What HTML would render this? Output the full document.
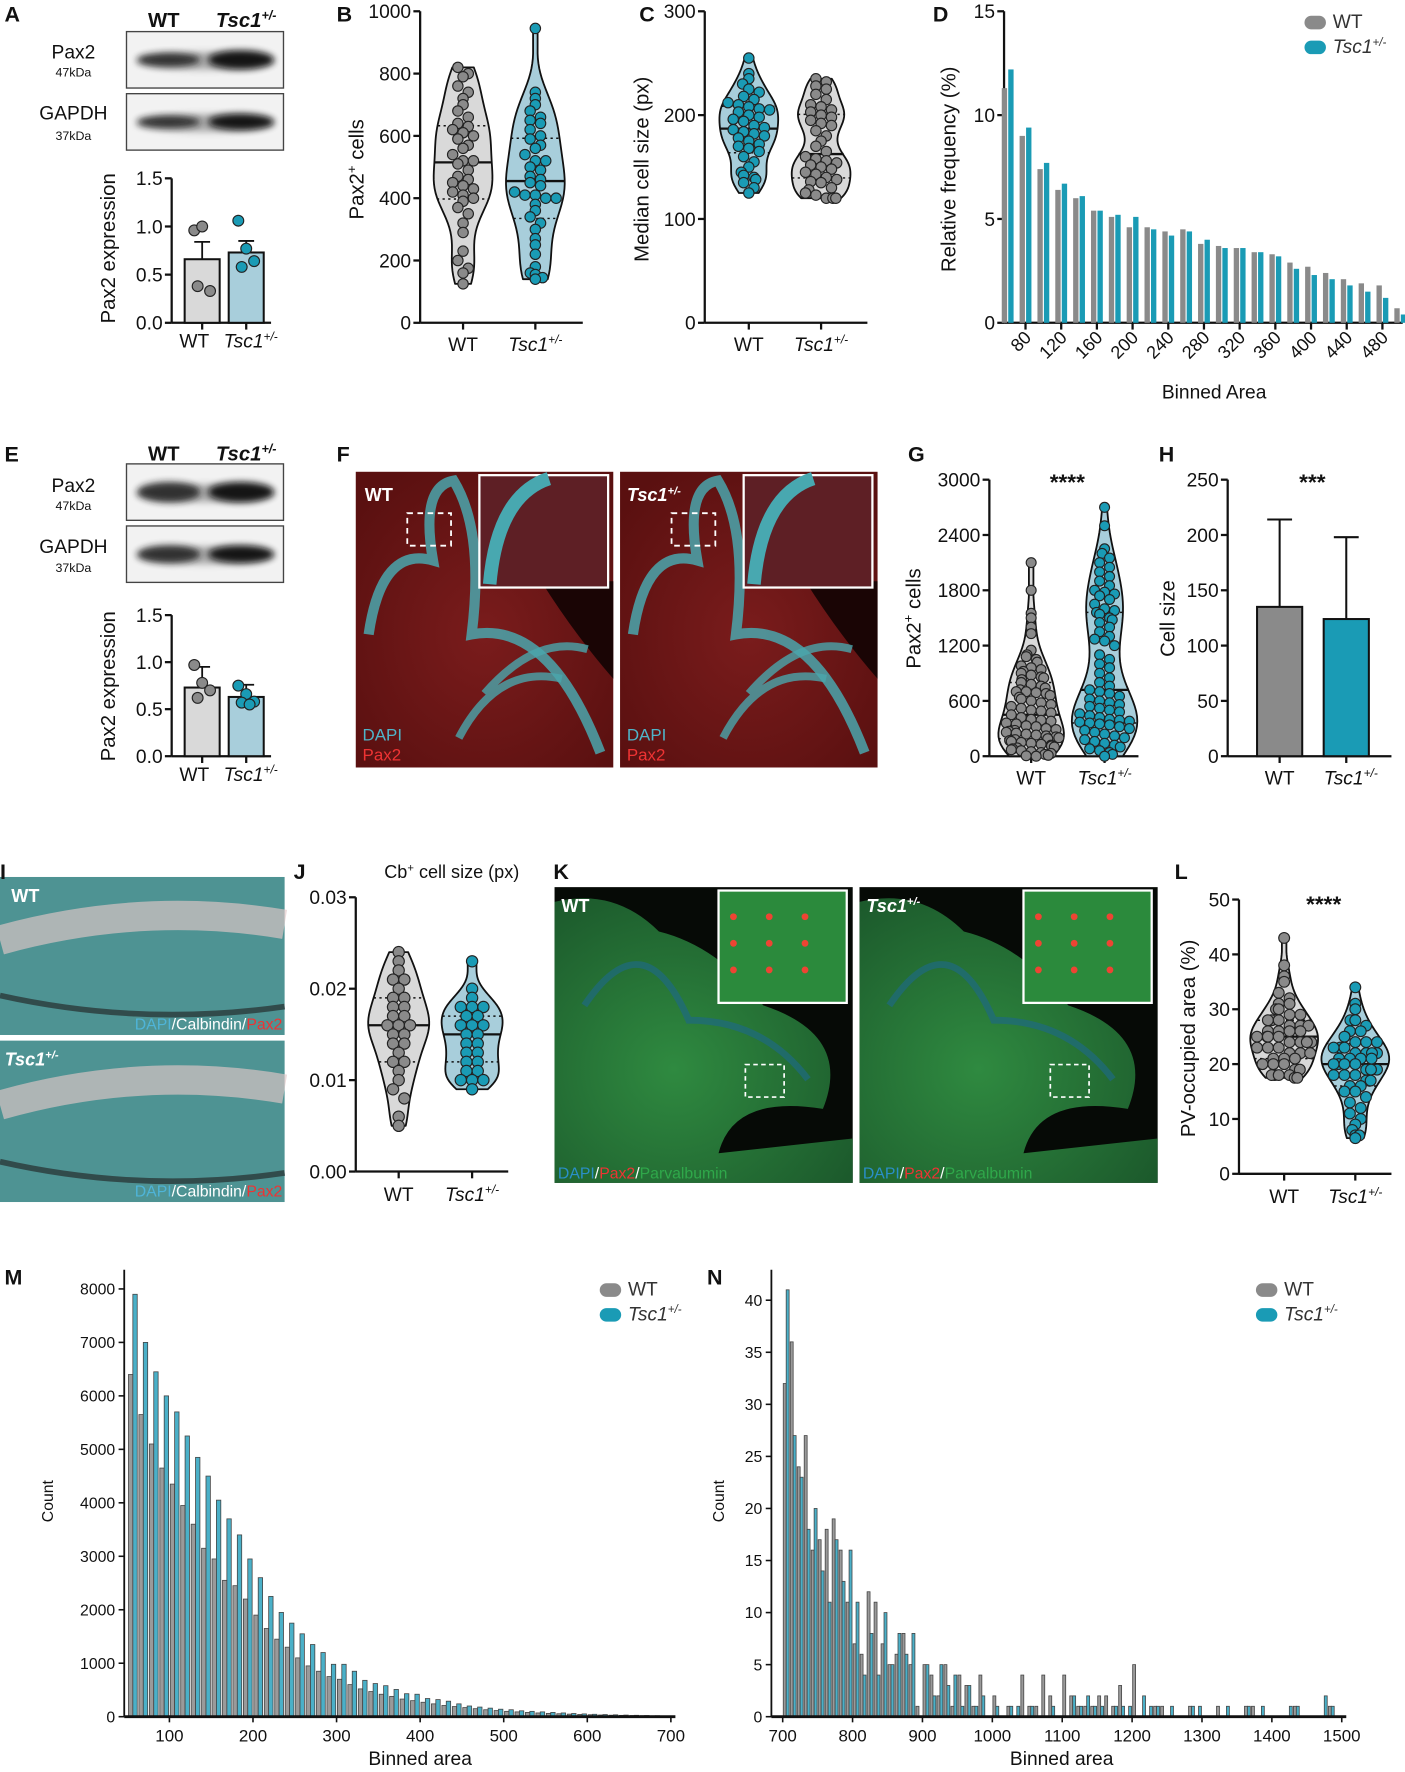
<!DOCTYPE html>
<html><head><meta charset="utf-8"><style>
html,body{margin:0;padding:0;background:#fff;}
svg{display:block;font-family:"Liberation Sans",Arial,sans-serif;}
</style></head><body>
<svg id="fig" width="1405" height="1772" viewBox="0 0 1244 1570" preserveAspectRatio="none" xmlns="http://www.w3.org/2000/svg">
<defs>
<radialGradient id="redg" cx="50%" cy="55%" r="65%"><stop offset="0" stop-color="#7a1c1c"/><stop offset="1" stop-color="#5a1010"/></radialGradient>
<radialGradient id="greeng" cx="40%" cy="60%" r="70%"><stop offset="0" stop-color="#2f8a40"/><stop offset="1" stop-color="#1c5a2c"/></radialGradient>
<filter id="blur" x="-20%" y="-50%" width="140%" height="200%"><feGaussianBlur stdDeviation="3"/></filter>
</defs>
</svg>
<script>
// ---------- DATA ----------
const groups = ["WT", "Tsc1"];
const A_means = [0.66, 0.73];
const A_sem = [0.18, 0.12];
const A_WT_pts = [0.96, 1.0, 0.33, 0.38];
const A_T_pts = [1.06, 0.77, 0.64, 0.58];
const E_means = [0.73, 0.63];
const E_sem = [0.22, 0.13];
const E_WT_pts = [0.97, 0.78, 0.70, 0.62];
const E_T_pts = [0.75, 0.66, 0.58, 0.57, 0.55];
const B_WT = [820,800,790,760,740,720,700,680,660,640,630,620,610,600,590,570,560,540,520,520,510,490,470,460,450,440,430,420,410,400,390,370,350,320,290,230,200,175,160,125];
const B_T = [945,740,720,700,680,660,650,640,620,600,590,570,560,540,520,520,500,490,470,460,450,440,420,410,410,400,400,380,360,340,320,300,270,250,220,180,160,155,145,140];
const C_WT = [255,240,235,230,225,222,218,215,212,210,208,206,205,203,200,198,196,194,190,188,186,184,182,180,178,175,172,170,168,165,160,155,150,145,142,140,138,135,130,125];
const C_T = [235,232,228,225,220,215,210,208,205,203,200,198,195,192,190,185,180,175,170,165,160,158,156,154,152,150,148,145,143,140,138,136,135,130,128,125,123,120,120,120];
const D_bins = [60,80,100,120,140,160,180,200,220,240,260,280,300,320,340,360,380,400,420,440,460,480,500];
const D_WT = [11.3,9.0,7.4,6.4,6.0,5.4,5.1,4.6,4.6,4.4,4.5,3.8,3.7,3.6,3.4,3.3,2.9,2.7,2.4,2.1,1.9,1.8,0.7];
const D_T = [12.2,9.4,7.7,6.7,6.1,5.4,5.2,5.1,4.5,4.2,4.4,4.0,3.6,3.6,3.4,3.2,2.6,2.3,2.1,1.8,1.5,1.2,0.4];
const D_ticks = [80,120,160,200,240,280,320,360,400,440,480];
const G_WT = [2100,1800,1550,1500,1400,1330,1150,1100,1080,1050,1020,980,960,940,920,900,880,860,850,830,800,780,760,740,720,700,700,690,680,660,640,620,600,580,560,540,520,500,490,470,450,420,400,390,380,360,350,330,320,300,290,280,270,260,250,240,230,220,210,200,190,180,170,160,150,140,130,120,110,100,90,80,70,60,50,40,30,20,10,5,0];
const G_T = [2700,2500,2250,2200,2150,2100,2050,2000,1950,1900,1850,1800,1780,1760,1740,1700,1650,1600,1580,1560,1540,1500,1480,1450,1400,1350,1300,1270,1250,1200,1100,1050,1000,960,900,850,800,760,720,700,680,650,620,600,580,560,540,520,500,480,460,440,420,400,390,380,370,360,350,340,320,300,280,260,240,220,200,180,160,140,120,100,80,60,40,20,0];
const H_means = [135, 124];
const H_sd = [79, 74];
const J_WT = [0.024,0.023,0.022,0.021,0.021,0.020,0.019,0.019,0.018,0.018,0.017,0.017,0.016,0.016,0.016,0.015,0.015,0.014,0.014,0.013,0.012,0.012,0.011,0.010,0.009,0.008,0.006,0.005];
const J_T = [0.023,0.020,0.019,0.018,0.018,0.018,0.017,0.017,0.016,0.016,0.016,0.015,0.015,0.014,0.014,0.013,0.013,0.012,0.012,0.011,0.011,0.010,0.010,0.009,0.010];
const L_WT = [43,38,36,35,33,32,31,31,30,30,29,29,28,28,28,27,27,27,26,26,26,26,25,25,25,25,24,24,24,24,23,23,23,22,22,22,21,21,21,20,20,20,19,19,18,18,18,18,17.5,17.5];
const L_T = [34,31,30,28,28,27,26,26,25,25,24,24,24,23,23,23,22,22,22,22,21,21,21,21,20,20,20,20,19,19,19,18,18,18,17,17,16,16,15,15,14,13,12,11,10,9,8,7,7,6.5];
const M_bins = [50,62.5,75,87.5,100,112.5,125,137.5,150,162.5,175,187.5,200,212.5,225,237.5,250,262.5,275,287.5,300,312.5,325,337.5,350,362.5,375,387.5,400,412.5,425,437.5,450,462.5,475,487.5,500,512.5,525,537.5,550,562.5,575,587.5,600,612.5,625,637.5,650,662.5,675,687.5];
const M_WT = [6400,5650,5100,4650,4350,3950,3600,3150,2950,2550,2450,2200,1900,1650,1450,1300,1100,950,850,750,700,600,520,470,420,380,330,300,270,240,210,190,170,150,130,115,100,90,80,70,62,55,48,42,37,32,28,25,22,19,16,14];
const M_T = [7900,7000,6450,6000,5700,5250,4850,4500,4050,3700,3400,2950,2600,2250,1950,1750,1550,1350,1200,980,980,850,680,620,580,510,430,420,340,320,290,240,200,180,160,140,130,110,100,90,80,70,60,52,45,40,35,30,26,22,18,15];
const M_ticks = [100,200,300,400,500,600,700];
const M_yticks = [0,1000,2000,3000,4000,5000,6000,7000,8000];
const N_bins = [700,710,720,730,740,750,760,770,780,790,800,810,820,830,840,850,860,870,880,890,900,910,920,930,940,950,960,970,980,990,1000,1010,1020,1030,1040,1050,1060,1070,1080,1090,1100,1110,1120,1130,1140,1150,1160,1170,1180,1190,1200,1210,1220,1230,1240,1250,1260,1270,1280,1290,1300,1310,1320,1330,1340,1350,1360,1370,1380,1390,1400,1410,1420,1430,1440,1450,1460,1470,1480];
const N_WT = [32,36,24,27,16,17,18,19,16,11,7,6,12,11,7,5,6,8,5,1,5,4,2,5,1,4,3,1,4,0,2,0,1,0,4,1,1,4,2,0,4,2,1,1,1,2,2,1,3,0,5,0,0,1,1,0,0,0,1,0,0,0,1,0,0,0,1,1,0,0,0,0,0,1,0,0,0,0,1];
const N_T = [41,27,23,18,20,14,11,17,13,16,11,4,8,4,10,5,8,6,8,0,5,2,5,3,4,1,3,1,2,0,1,0,1,1,0,1,0,0,1,0,0,2,1,2,1,1,0,1,1,1,0,2,1,1,0,1,0,0,1,1,0,0,0,1,0,0,1,0,1,0,0,0,1,1,0,0,0,2,1];
const N_ticks = [700,800,900,1000,1100,1200,1300,1400,1500];
const N_yticks = [0,5,10,15,20,25,30,35,40];

// ---------- HELPERS ----------
const NS = "http://www.w3.org/2000/svg";
const svg = document.getElementById("fig");
const GRAY = "#8a8a8a", TEAL = "#1a9bb5", VGRAY = "#d9d9d9", VTEAL = "#a8cedb";
function mk(tag, attrs, parent) {
  const e = document.createElementNS(NS, tag);
  for (const k in attrs) e.setAttribute(k, attrs[k]);
  (parent || svg).appendChild(e);
  return e;
}
function txt(x, y, s, size, parent, opts) {
  opts = opts || {};
  const t = mk("text", {x: x, y: y, "font-size": size, "text-anchor": opts.anchor || "middle", fill: opts.fill || "#111"}, parent);
  if (opts.bold) t.setAttribute("font-weight", "bold");
  if (opts.italic) t.setAttribute("font-style", "italic");
  if (opts.rot) t.setAttribute("transform", "rotate(" + opts.rot + " " + x + " " + y + ")");
  t.textContent = s;
  return t;
}
function tscLabel(x, y, size, parent, fill, bold) {
  const t = mk("text", {x: x, y: y, "font-size": size, "text-anchor": "middle", "font-style": "italic", fill: fill || "#111"}, parent);
  if (bold) t.setAttribute("font-weight", "bold");
  const a = document.createElementNS(NS, "tspan"); a.textContent = "Tsc1"; t.appendChild(a);
  const b = document.createElementNS(NS, "tspan"); b.setAttribute("font-size", size * 0.62); b.setAttribute("dy", -size * 0.38); b.textContent = "+/-"; t.appendChild(b);
  return t;
}
function lin(d0, d1, r0, r1) { return v => r0 + (v - d0) * (r1 - r0) / (d1 - d0); }
function yAxis(g, x, yScale, ticks, labels, size) {
  const l = mk("line", {x1: x, x2: x, y1: yScale(ticks[ticks.length - 1]), y2: yScale(ticks[0]), stroke: "#111", "stroke-width": 2}, g);
  
  
  ticks.forEach((v, i) => {
    mk("line", {x1: x - 6, x2: x, y1: yScale(v), y2: yScale(v), stroke: "#111", "stroke-width": 2}, g);
    const t = txt(x - 8, yScale(v) + size * 0.36, labels[i], size, g, {anchor: "end"});
    
    
  });
}
function xAxis(g, x0, x1, y, tickXs) {
  const l = mk("line", {x1: x0, x2: x1, y1: y, y2: y, stroke: "#111", "stroke-width": 2}, g);
  
  
  tickXs.forEach(tx => mk("line", {x1: tx, x2: tx, y1: y, y2: y + 6, stroke: "#111", "stroke-width": 2}, g));
}
function group(name) {
  const g = mk("g", {});
  
  
  return g;
}
function panelLetter(g, x, y, s) {
  const t = txt(x, y, s, 19, g, {anchor: "start", bold: true});
  
  
}
function barDotPanel(g, means, sems, ptsA, ptsB, xs, ys, bw, fills) {
  means.forEach((m, i) => {
    const b = mk("rect", {x: xs[i] - bw / 2, y: ys(m), width: bw, height: ys(0) - ys(m), fill: fills[i], stroke: "#111", "stroke-width": 1.8}, g);
    
    
    mk("line", {x1: xs[i], x2: xs[i], y1: ys(m), y2: ys(m + sems[i]), stroke: "#111", "stroke-width": 1.6}, g);
    mk("line", {x1: xs[i] - 7, x2: xs[i] + 7, y1: ys(m + sems[i]), y2: ys(m + sems[i]), stroke: "#111", "stroke-width": 1.6}, g);
  });
  [ptsA, ptsB].forEach((pts, i) => {
    pts.forEach((v, k) => {
      const off = ((k % 3) - 1) * 7 + (k > 2 ? 3 : 0);
      const c = mk("circle", {cx: xs[i] + off, cy: ys(v), r: 4.8, fill: i ? TEAL : GRAY, stroke: "#222", "stroke-width": 1}, g);
      
      
    });
  });
}
function quant(arr, q) {
  const s = arr.slice().sort((a, b) => a - b);
  const p = (s.length - 1) * q, lo = Math.floor(p), hi = Math.ceil(p);
  return s[lo] + (s[hi] - s[lo]) * (p - lo);
}
function violin(g, vals, cx, ys, halfW, fill, ptFill, r, name) {
  const mn = Math.min(...vals), mx = Math.max(...vals), bw = (mx - mn) * 0.09;
  const N = 50, grid = [], dens = [];
  for (let i = 0; i <= N; i++) {
    const y = mn + (mx - mn) * i / N; grid.push(y);
    let d = 0; vals.forEach(v => { d += Math.exp(-0.5 * ((y - v) / bw) ** 2); }); dens.push(d);
  }
  const dm = Math.max(...dens);
  const w = dens.map(d => Math.max(2, d / dm * halfW));
  let p = "M" + cx + "," + ys(mn);
  grid.forEach((y, i) => { p += " L" + (cx + w[i]) + "," + ys(y); });
  for (let i = N; i >= 0; i--) p += " L" + (cx - w[i]) + "," + ys(grid[i]);
  p += "Z";
  const vp = mk("path", {d: p, fill: fill, stroke: "#111", "stroke-width": 1.6, "stroke-linejoin": "round"}, g);
  
  
  const widthAt = v => { const i = Math.round((v - mn) / (mx - mn) * N); return w[Math.max(0, Math.min(N, i))]; };
  [0.25, 0.5, 0.75].forEach(q => {
    const v = quant(vals, q), ww = widthAt(v);
    mk("line", {x1: cx - ww, x2: cx + ww, y1: ys(v), y2: ys(v), stroke: "#111", "stroke-width": q === 0.5 ? 2 : 1.3, "stroke-dasharray": q === 0.5 ? "none" : "2,3"}, g);
  });
  const sorted = vals.slice().sort((a, b) => b - a);
  const bandPx = r * 1.7; let bands = {};
  sorted.forEach(v => { const k = Math.round(ys(v) / bandPx); (bands[k] = bands[k] || []).push(v); });
  Object.keys(bands).forEach(k => {
    const arr = bands[k];
    arr.forEach((v, j) => {
      const n = arr.length; const ww = Math.max(0, widthAt(v) - r);
      let off = n > 1 ? (j - (n - 1) / 2) * (r * 2.0) : 0;
      if (Math.abs(off) > ww) off = Math.sign(off) * ww * (0.6 + 0.4 * ((j % 3) / 2));
      const c = mk("circle", {cx: cx + off, cy: ys(v), r: r, fill: ptFill, stroke: "#222", "stroke-width": 1}, g);
      
      
    });
  });
}
function xLabels(g, xs, y, size) {
  const a = txt(xs[0], y, "WT", size, g);
  
  
  const b = tscLabel(xs[1], y, size, g);
  
  
}
function yTitle(g, x, y, s, size, sup) {
  const t = mk("text", {x: x, y: y, "font-size": size, "text-anchor": "middle", fill: "#111", transform: "rotate(-90 " + x + " " + y + ")"}, g);
  if (sup) {
    const a = document.createElementNS(NS, "tspan"); a.textContent = s[0]; t.appendChild(a);
    const b = document.createElementNS(NS, "tspan"); b.setAttribute("font-size", size * 0.65); b.setAttribute("dy", -size * 0.38); b.textContent = "+"; t.appendChild(b);
    const c = document.createElementNS(NS, "tspan"); c.setAttribute("dy", size * 0.38); c.textContent = s[1]; t.appendChild(c);
  } else t.textContent = s;
  
  
  return t;
}
function blot(g, x, y, w, h, darkA, darkB) {
  const r = mk("rect", {x: x, y: y, width: w, height: h, fill: "#f2f2f2", stroke: "#444", "stroke-width": 1.2}, g);
  
  
  mk("ellipse", {cx: x + w * 0.5, cy: y + h * 0.52, rx: w * 0.44, ry: h * 0.16, fill: "#666", opacity: 0.5, filter: "url(#blur)"}, g);
  mk("ellipse", {cx: x + w * 0.27, cy: y + h * 0.5, rx: w * 0.2, ry: h * 0.12 * darkA, fill: "#1a1a1a", opacity: 0.85, filter: "url(#blur)"}, g);
  mk("ellipse", {cx: x + w * 0.73, cy: y + h * 0.5, rx: w * 0.21, ry: h * 0.12 * darkB, fill: "#0a0a0a", opacity: 0.95, filter: "url(#blur)"}, g);
}
function legend(g, x, y, size) {
  [["WT", GRAY], ["Tsc1", TEAL]].forEach((it, i) => {
    const rr = mk("rect", {x: x, y: y + i * 22 - 11, width: 19, height: 12, rx: 6, fill: it[1]}, g);
    
    
    if (i === 0) { const t = txt(x + 25, y, "WT", size, g, {anchor: "start", fill: "#333"});   }
    else {
      const t = mk("text", {x: x + 25, y: y + 22, "font-size": size, "font-style": "italic", fill: "#333"}, g);
      const a = document.createElementNS(NS, "tspan"); a.textContent = "Tsc1"; t.appendChild(a);
      const b = document.createElementNS(NS, "tspan"); b.setAttribute("font-size", size * 0.6); b.setAttribute("dy", -size * 0.38); b.textContent = "+/-"; t.appendChild(b);
      
      
    }
  });
}

// ---------- PANEL A ----------
(function () {
  const g = group("panel-a");
  panelLetter(g, 4, 19, "A");
  txt(145, 24, "WT", 18, g, {bold: true});
  tscLabel(218, 24, 18, g, "#111", true);
  blot(g, 112, 28, 139, 50, 1.0, 1.4);
  blot(g, 112, 83, 139, 50, 0.9, 1.2);
  txt(65, 52, "Pax2", 17, g); txt(65, 68, "47kDa", 11, g);
  txt(65, 106, "GAPDH", 17, g); txt(65, 124, "37kDa", 11, g);
  const ys = lin(0, 1.5, 286, 158);
  yAxis(g, 152, ys, [0, 0.5, 1.0, 1.5], ["0.0", "0.5", "1.0", "1.5"], 17);
  xAxis(g, 152, 240, 286, [179, 218]);
  barDotPanel(g, A_means, A_sem, A_WT_pts, A_T_pts, [179, 218], ys, 31, [VGRAY, VTEAL]);
  xLabels(g, [172, 222], 308, 17);
  yTitle(g, 102, 220, "Pax2 expression", 18);
})();

// ---------- PANEL B ----------
(function () {
  const g = group("panel-b");
  panelLetter(g, 298, 19, "B");
  const ys = lin(0, 1000, 286, 10);
  yAxis(g, 372, ys, [0, 200, 400, 600, 800, 1000], ["0", "200", "400", "600", "800", "1000"], 17);
  xAxis(g, 372, 516, 286, [410, 474]);
  violin(g, B_WT, 410, ys, 26, VGRAY, GRAY, 4.6, "b-wt");
  violin(g, B_T, 474, ys, 26, VTEAL, TEAL, 4.6, "b-tsc1");
  xLabels(g, [410, 474], 311, 17);
  yTitle(g, 322, 150, ["Pax2", " cells"], 18, true);
})();

// ---------- PANEL C ----------
(function () {
  const g = group("panel-c");
  panelLetter(g, 566, 19, "C");
  const ys = lin(0, 300, 286, 10);
  yAxis(g, 624, ys, [0, 100, 200, 300], ["0", "100", "200", "300"], 17);
  xAxis(g, 624, 768, 286, [663, 727]);
  violin(g, C_WT, 663, ys, 26, VTEAL, TEAL, 4.6, "c-wt");
  violin(g, C_T, 727, ys, 26, VGRAY, GRAY, 4.6, "c-tsc1");
  xLabels(g, [663, 727], 311, 17);
  yTitle(g, 574, 150, "Median cell size (px)", 18);
})();

// ---------- PANEL D ----------
(function () {
  const g = group("panel-d");
  panelLetter(g, 826, 19, "D");
  const ys = lin(0, 15, 286, 10);
  const xs = lin(80, 480, 908, 1224);
  yAxis(g, 889, ys, [0, 5, 10, 15], ["0", "5", "10", "15"], 17);
  xAxis(g, 889, 1242, 286, D_ticks.map(xs));
  const bw = (xs(100) - xs(80)) * 0.3;
  D_bins.forEach((b, i) => {
    const c = xs(b);
    const r1 = mk("rect", {x: c - bw - 0.5, y: ys(D_WT[i]), width: bw, height: ys(0) - ys(D_WT[i]), fill: GRAY}, g);
    
    
    const r2 = mk("rect", {x: c + 0.5, y: ys(D_T[i]), width: bw, height: ys(0) - ys(D_T[i]), fill: TEAL}, g);
    
    
  });
  D_ticks.forEach(v => {
    const t = txt(xs(v) + 6, 300, String(v), 16, g, {anchor: "end", rot: -45});
    
    
  });
  const xt = txt(1075, 353, "Binned Area", 17, g);
  
  
  yTitle(g, 846, 150, "Relative frequency (%)", 18);
  legend(g, 1155, 25, 17);
})();

// ---------- PANEL E ----------
(function () {
  const g = group("panel-e");
  panelLetter(g, 4, 409, "E");
  txt(145, 408, "WT", 18, g, {bold: true});
  tscLabel(218, 408, 18, g, "#111", true);
  blot(g, 112, 411, 139, 50, 1.5, 1.5);
  blot(g, 112, 466, 139, 50, 1.3, 1.3);
  txt(65, 436, "Pax2", 17, g); txt(65, 452, "47kDa", 11, g);
  txt(65, 490, "GAPDH", 17, g); txt(65, 507, "37kDa", 11, g);
  const ys = lin(0, 1.5, 670, 545);
  yAxis(g, 152, ys, [0, 0.5, 1.0, 1.5], ["0.0", "0.5", "1.0", "1.5"], 17);
  xAxis(g, 152, 240, 670, [179, 218]);
  barDotPanel(g, E_means, E_sem, E_WT_pts, E_T_pts, [179, 218], ys, 31, [VGRAY, VTEAL]);
  xLabels(g, [172, 222], 692, 17);
  yTitle(g, 102, 608, "Pax2 expression", 18);
})();

// ---------- MICROSCOPY IMAGES ----------
function redImage(g, x, y, w, h, label, italic) {
  const bg = mk("rect", {x: x, y: y, width: w, height: h, fill: "url(#redg)"}, g);
  
  
  mk("path", {d: `M${x+w*0.72},${y+h*0.37} L${x+w},${y+h*0.37} L${x+w},${y+h*0.7} Q${x+w*0.85},${y+h*0.55} ${x+w*0.72},${y+h*0.37}Z`, fill: "#1a0505"}, g);
  mk("path", {d: `M${x+w*0.05},${y+h*0.55} Q${x+w*0.1},${y+h*0.25} ${x+w*0.3},${y+h*0.3} Q${x+w*0.25},${y+h*0.05} ${x+w*0.38},${y+h*0.03} Q${x+w*0.5},${y+h*0.2} ${x+w*0.45},${y+h*0.55} Q${x+w*0.75},${y+h*0.5} ${x+w*0.95},${y+h*0.95}`, fill: "none", stroke: "#4aa6ad", "stroke-width": 9, opacity: 0.85}, g);
  mk("path", {d: `M${x+w*0.4},${y+h*0.9} Q${x+w*0.55},${y+h*0.65} ${x+w*0.8},${y+h*0.7} M${x+w*0.5},${y+h*0.75} Q${x+w*0.7},${y+h*0.55} ${x+w*0.9},${y+h*0.6}`, fill: "none", stroke: "#4aa6ad", "stroke-width": 7, opacity: 0.8}, g);
  mk("rect", {x: x + w * 0.2, y: y + h * 0.14, width: w * 0.17, height: h * 0.11, fill: "none", stroke: "#fff", "stroke-width": 1.6, "stroke-dasharray": "5,4"}, g);
  const ins = mk("rect", {x: x + w * 0.48, y: y + 3, width: w * 0.5, height: h * 0.38, fill: "#5e1f25", stroke: "#fff", "stroke-width": 2}, g);
  
  
  mk("path", {d: `M${x+w*0.52},${y+h*0.38} Q${x+w*0.55},${y+h*0.08} ${x+w*0.75},${y+6}`, fill: "none", stroke: "#48a8b0", "stroke-width": 12}, g);
  if (italic) tscLabel(x + 30, y + 26, 16, g, "#fff", true); else txt(x + 8, y + 26, label, 16, g, {anchor: "start", bold: true, fill: "#fff"});
  txt(x + 6, y + h - 24, "DAPI", 15, g, {anchor: "start", fill: "#4fb4c8"});
  txt(x + 6, y + h - 6, "Pax2", 15, g, {anchor: "start", fill: "#e33"});
}
(function () {
  const g = group("panel-f");
  panelLetter(g, 298, 409, "F");
  redImage(g, 315, 418, 228, 262, "WT", false);
  redImage(g, 549, 418, 228, 262, "Tsc1", true);
})();

// ---------- PANEL G ----------
(function () {
  const g = group("panel-g");
  panelLetter(g, 804, 409, "G");
  const ys = lin(0, 3000, 670, 425);
  yAxis(g, 876, ys, [0, 600, 1200, 1800, 2400, 3000], ["0", "600", "1200", "1800", "2400", "3000"], 17);
  xAxis(g, 876, 1008, 670, [913, 978]);
  violin(g, G_WT, 913, ys, 29, VGRAY, GRAY, 4.4, "g-wt");
  violin(g, G_T, 978, ys, 29, VTEAL, TEAL, 4.4, "g-tsc1");
  xLabels(g, [913, 978], 695, 17);
  txt(945, 434, "****", 20, g, {bold: true});
  yTitle(g, 815, 548, ["Pax2", " cells"], 18, true);
})();

// ---------- PANEL H ----------
(function () {
  const g = group("panel-h");
  panelLetter(g, 1026, 409, "H");
  const ys = lin(0, 250, 670, 425);
  yAxis(g, 1087, ys, [0, 50, 100, 150, 200, 250], ["0", "50", "100", "150", "200", "250"], 17);
  xAxis(g, 1087, 1232, 670, [1133, 1192]);
  [1133, 1192].forEach((cx, i) => {
    const b = mk("rect", {x: cx - 20, y: ys(H_means[i]), width: 40, height: ys(0) - ys(H_means[i]), fill: i ? TEAL : GRAY, stroke: "#111", "stroke-width": 1.8}, g);
    
    
    mk("line", {x1: cx, x2: cx, y1: ys(H_means[i]), y2: ys(H_means[i] + H_sd[i]), stroke: "#111", "stroke-width": 1.8}, g);
    mk("line", {x1: cx - 11, x2: cx + 11, y1: ys(H_means[i] + H_sd[i]), y2: ys(H_means[i] + H_sd[i]), stroke: "#111", "stroke-width": 1.8}, g);
  });
  xLabels(g, [1133, 1196], 695, 17);
  txt(1162, 434, "***", 20, g, {bold: true});
  yTitle(g, 1040, 548, "Cell size", 18);
})();

// ---------- PANEL I ----------
function calbImage(g, x, y, w, h, italic, label) {
  const bg = mk("rect", {x: x, y: y, width: w, height: h, fill: "#4e9393"}, g);
  
  
  mk("path", {d: `M${x},${y+h*0.4} Q${x+w*0.5},${y+h*0.15} ${x+w},${y+h*0.3}`, fill: "none", stroke: "#e2c8c8", "stroke-width": 26, opacity: 0.65}, g);
  mk("path", {d: `M${x},${y+h*0.75} Q${x+w*0.5},${y+h*0.95} ${x+w},${y+h*0.82}`, fill: "none", stroke: "#2a3a3a", "stroke-width": 5, opacity: 0.8}, g);
  if (italic) tscLabel(x + 28, y + 22, 16, g, "#fff", true); else txt(x + 10, y + 22, label, 16, g, {anchor: "start", bold: true, fill: "#fff"});
  const t = mk("text", {x: x + w - 2, y: y + h - 5, "font-size": 14, "text-anchor": "end", fill: "#fff"}, g);
  [["DAPI", "#4fb4d8"], ["/Calbindin/", "#fff"], ["Pax2", "#e33"]].forEach(p => { const s = document.createElementNS(NS, "tspan"); s.setAttribute("fill", p[1]); s.textContent = p[0]; t.appendChild(s); });
}
(function () {
  const g = group("panel-i");
  calbImage(g, 0, 777, 252, 140, false, "WT");
  calbImage(g, 0, 922, 252, 143, true, "");
  panelLetter(g, 0, 779, "I");
})();

// ---------- PANEL J ----------
(function () {
  const g = group("panel-j");
  panelLetter(g, 260, 779, "J");
  const ys = lin(0, 0.03, 1038, 795);
  yAxis(g, 315, ys, [0, 0.01, 0.02, 0.03], ["0.00", "0.01", "0.02", "0.03"], 17);
  xAxis(g, 315, 450, 1038, [353, 418]);
  violin(g, J_WT, 353, ys, 27, VGRAY, GRAY, 5, "j-wt");
  violin(g, J_T, 418, ys, 27, VTEAL, TEAL, 5, "j-tsc1");
  xLabels(g, [353, 418], 1064, 17);
  const t = mk("text", {x: 400, y: 778, "font-size": 16, "text-anchor": "middle", fill: "#111"}, g);
  const a = document.createElementNS(NS, "tspan"); a.textContent = "Cb"; t.appendChild(a);
  const b = document.createElementNS(NS, "tspan"); b.setAttribute("font-size", 10); b.setAttribute("dy", -6); b.textContent = "+"; t.appendChild(b);
  const c = document.createElementNS(NS, "tspan"); c.setAttribute("dy", 6); c.textContent = " cell size (px)"; t.appendChild(c);
  
  
})();

// ---------- PANEL K ----------
function greenImage(g, x, y, w, h, italic, label) {
  const bg = mk("rect", {x: x, y: y, width: w, height: h, fill: "#060a06"}, g);
  
  
  mk("path", {d: `M${x},${y+h} L${x},${y+h*0.05} Q${x+w*0.2},${y} ${x+w*0.35},${y+h*0.15} Q${x+w*0.55},${y+h*0.2} ${x+w*0.7},${y+h*0.4} Q${x+w},${y+h*0.5} ${x+w*0.9},${y+h*0.75} Q${x+w*0.6},${y+h*0.7} ${x+w*0.55},${y+h*0.9} L${x+w},${y+h*0.85} L${x+w},${y+h}Z`, fill: "url(#greeng)"}, g);
  mk("path", {d: `M${x+w*0.1},${y+h*0.4} Q${x+w*0.3},${y+h*0.1} ${x+w*0.45},${y+h*0.45} Q${x+w*0.7},${y+h*0.45} ${x+w*0.85},${y+h*0.65}`, fill: "none", stroke: "#1e6a80", "stroke-width": 6, opacity: 0.7}, g);
  mk("rect", {x: x + w * 0.64, y: y + h * 0.6, width: w * 0.13, height: h * 0.11, fill: "none", stroke: "#fff", "stroke-width": 1.5, "stroke-dasharray": "4,3"}, g);
  const ins = mk("rect", {x: x + w * 0.55, y: y + 3, width: w * 0.43, height: h * 0.38, fill: "#2b8a3c", stroke: "#fff", "stroke-width": 2}, g);
  
  
  for (let i = 0; i < 9; i++) mk("circle", {cx: x + w * (0.6 + (i % 3) * 0.12), cy: y + h * (0.1 + Math.floor(i / 3) * 0.09), r: 3, fill: "#e43"}, g);
  if (italic) tscLabel(x + 30, y + 22, 16, g, "#fff", true); else txt(x + 6, y + 22, label, 16, g, {anchor: "start", bold: true, fill: "#fff"});
  const t = mk("text", {x: x + 3, y: y + h - 4, "font-size": 14, fill: "#fff"}, g);
  [["DAPI", "#2a8fc8"], ["/", "#fff"], ["Pax2", "#e33"], ["/", "#fff"], ["Parvalbumin", "#2fa84a"]].forEach(p => { const s = document.createElementNS(NS, "tspan"); s.setAttribute("fill", p[1]); s.textContent = p[0]; t.appendChild(s); });
}
(function () {
  const g = group("panel-k");
  panelLetter(g, 490, 779, "K");
  greenImage(g, 491, 786, 264, 262, false, "WT");
  greenImage(g, 761, 786, 264, 262, true, "");
})();

// ---------- PANEL L ----------
(function () {
  const g = group("panel-l");
  panelLetter(g, 1040, 779, "L");
  const ys = lin(0, 50, 1040, 797);
  yAxis(g, 1097, ys, [0, 10, 20, 30, 40, 50], ["0", "10", "20", "30", "40", "50"], 17);
  xAxis(g, 1097, 1232, 1040, [1137, 1200]);
  violin(g, L_WT, 1137, ys, 30, VGRAY, GRAY, 4.8, "l-wt");
  violin(g, L_T, 1200, ys, 30, VTEAL, TEAL, 4.8, "l-tsc1");
  xLabels(g, [1137, 1200], 1066, 17);
  txt(1172, 808, "****", 20, g, {bold: true});
  yTitle(g, 1058, 920, "PV-occupied area (%)", 18);
})();

// ---------- HISTOGRAMS M / N ----------
function histo(g, bins, wt, tt, xs, ys, binW) {
  const bw = (xs(bins[0] + binW) - xs(bins[0])) * 0.42;
  bins.forEach((b, i) => {
    const c = xs(b + binW / 2);
    const r1 = mk("rect", {x: c - bw, y: ys(wt[i]), width: bw, height: ys(0) - ys(wt[i]), fill: "#9a9a9a", stroke: "#444", "stroke-width": 0.7}, g);
    
    
    const r2 = mk("rect", {x: c, y: ys(tt[i]), width: bw, height: ys(0) - ys(tt[i]), fill: "#4ab0c8", stroke: "#444", "stroke-width": 0.7}, g);
    
    
  });
}
function histAxes(g, x0, x1, y0, yTop, xs, ys, xt, yt) {
  const yl = mk("line", {x1: x0, x2: x0, y1: yTop, y2: y0, stroke: "#111", "stroke-width": 1.6}, g);
  
  
  const xl = mk("line", {x1: x0, x2: x1, y1: y0, y2: y0, stroke: "#111", "stroke-width": 2.5}, g);
  
  
  yt.forEach(v => {
    mk("line", {x1: x0 - 5, x2: x0, y1: ys(v), y2: ys(v), stroke: "#111", "stroke-width": 1.4}, g);
    const t = txt(x0 - 8, ys(v) + 5, String(v), 14, g, {anchor: "end"});
    
    
  });
  xt.forEach(v => {
    mk("line", {x1: xs(v), x2: xs(v), y1: y0, y2: y0 + 5, stroke: "#111", "stroke-width": 1.4}, g);
    const t = txt(xs(v), y0 + 22, String(v), 15, g);
    
    
  });
}
(function () {
  const g = group("panel-m");
  panelLetter(g, 4, 1138, "M");
  const xs = lin(100, 700, 150, 594);
  const ys = lin(0, 8000, 1521, 1142);
  histo(g, M_bins, M_WT, M_T, xs, ys, 12.5);
  histAxes(g, 110, 598, 1521, 1125, xs, ys, M_ticks, M_yticks);
  const xt = txt(372, 1564, "Binned area", 17, g);
  
  
  yTitle(g, 47, 1330, "Count", 14);
  legend(g, 531, 1148, 17);
})();
(function () {
  const g = group("panel-n");
  panelLetter(g, 626, 1138, "N");
  const xs = lin(700, 1500, 693, 1188);
  const ys = lin(0, 40, 1521, 1152);
  histo(g, N_bins, N_WT, N_T, xs, ys, 10);
  histAxes(g, 683, 1192, 1521, 1125, xs, ys, N_ticks, N_yticks);
  const xt = txt(940, 1564, "Binned area", 17, g);
  
  
  yTitle(g, 641, 1330, "Count", 14);
  legend(g, 1112, 1148, 17);
})();
</script>
</body></html>
